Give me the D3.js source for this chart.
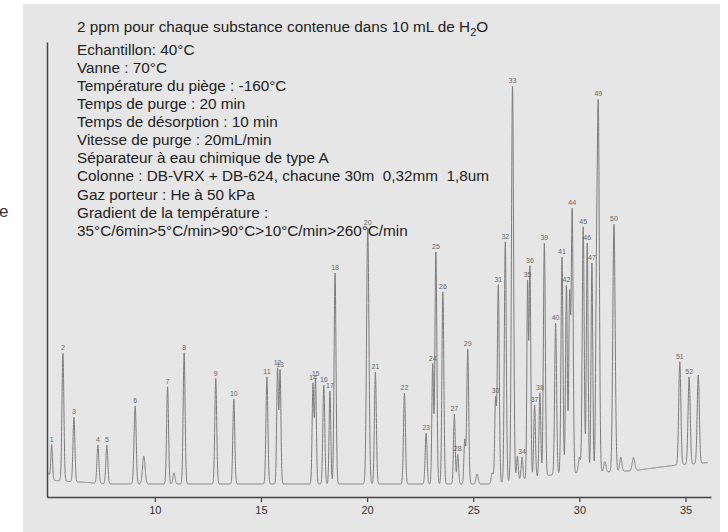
<!DOCTYPE html>
<html>
<head>
<meta charset="utf-8">
<script src="https://cdn.jsdelivr.net/npm/d3@7"></script>
<style>
    body { margin: 0; background: #ffffff; }
    svg { display: block; font-family: "Liberation Sans", Arial, sans-serif; }
</style>
</head>
<body>
<svg id="chart" width="728" height="532"></svg>
<script>
// retention times (min), peak tops, peak labels ("" = no label), widths
var peak_times = [4.95, 5.14, 5.67, 6.19, 7.32, 7.74, 9.02, 9.08, 9.48, 10.6, 10.9, 11.38, 12.87, 13.72,
    15.28, 15.78, 15.90, 17.45, 17.57, 17.96, 18.25, 18.49, 20.03, 20.39, 21.76, 22.78, 23.09, 23.24,
    23.57, 24.11, 24.27, 24.6, 24.74, 25.18, 25.9, 26.05, 26.18, 26.51, 26.85, 27.08, 27.3, 27.56,
    27.67, 27.89, 28.14, 28.35, 28.88, 29.18, 29.39, 29.54, 29.66, 30.0, 30.18, 30.37, 30.59, 30.8,
    30.89, 31.2, 31.63, 31.95, 32.55, 34.73, 35.17, 35.6];
var peak_tops = [3, 9.75, 32.7, 16.7, 9.75, 9.75, 4, 18, 7, 24.3, 2.8, 32.8, 26.4, 21.2,
    26.8, 28.7, 28.3, 25, 26, 24.75, 23.25, 52.8, 64, 28, 22.7, 12.7, 29.9, 58,
    48, 17.4, 7.4, 11, 33.75, 2.5, 2.8, 21, 49.75, 60.6, 99.5, 7, 6.8, 49.75,
    54.2, 19.75, 22.8, 60.2, 40.2, 56.7, 49.75, 46.4, 68.5, 6.7, 64.3, 60.3, 55.3, 39,
    92.8, 5.6, 65, 6.7, 6.6, 30.6, 26.8, 27.25];
var peak_labels = ["", "1", "2", "3", "4", "5", "", "6", "", "7", "", "8", "9", "10",
    "11", "12", "13", "14", "15", "16", "17", "18", "20", "21", "22", "23", "24", "25",
    "26", "27", "28", "", "29", "", "", "30", "31", "32", "33", "", "34", "35",
    "36", "37", "38", "39", "40", "41", "42", "", "44", "", "45", "46", "47", "",
    "49", "", "50", "", "", "51", "52", ""];
var peak_widths = [0.08, 0.04, 0.045, 0.045, 0.045, 0.045, 0.04, 0.045, 0.06, 0.045, 0.05, 0.045, 0.045, 0.045,
    0.045, 0.04, 0.04, 0.04, 0.04, 0.045, 0.04, 0.045, 0.055, 0.045, 0.045, 0.045, 0.04, 0.045,
    0.045, 0.04, 0.04, 0.04, 0.045, 0.05, 0.05, 0.04, 0.045, 0.045, 0.05, 0.04, 0.04, 0.035,
    0.04, 0.04, 0.04, 0.045, 0.045, 0.045, 0.04, 0.04, 0.045, 0.05, 0.045, 0.04, 0.04, 0.04,
    0.05, 0.05, 0.055, 0.05, 0.06, 0.05, 0.05, 0.05];

// baseline drift
var base_times = [4.92, 5.5, 8, 26, 27, 29, 31, 32.5, 34.5, 36.2];
var base_levels = [1, 0.8, 0, 0, 1, 2.5, 3, 3.3, 4.7, 5.4];

var tick_values = [10, 15, 20, 25, 30, 35];

var title_text = "2 ppm pour chaque substance contenue dans 10 mL de H";
var info_lines = [
    "Echantillon: 40°C",
    "Vanne : 70°C",
    "Température du piège : -160°C",
    "Temps de purge : 20 min",
    "Temps de désorption : 10 min",
    "Vitesse de purge : 20mL/min",
    "Séparateur à eau chimique de type A",
    "Colonne : DB-VRX + DB-624, chacune 30m  0,32mm  1,8um",
    "Gaz porteur : He à 50 kPa",
    "Gradient de la température :",
    "35°C/6min>5°C/min>90°C>10°C/min>260°C/min"
];

var svg = d3.select("#chart");

var x = d3.scaleLinear()
    .domain([4.92, 36.2])
    .range([47, 711]);

var y = d3.scaleLinear()
    .domain([-3.25, 110.5])
    .range([497, 42]);

var baseline = d3.scaleLinear()
    .domain(base_times)
    .range(base_levels);

// grey panel + cut off letters at the left
svg.append("rect")
    .attr("x", 23).attr("y", 4)
    .attr("width", 697).attr("height", 528)
    .attr("fill", "#e6e6e6");

svg.append("text")
    .attr("x", -1).attr("y", 217)
    .style("font-size", "17px")
    .style("fill", "#333")
    .text("e");

svg.append("text")
    .attr("x", -5).attr("y", 461)
    .style("font-size", "9px")
    .style("fill", "#999")
    .text("e");

// build the trace from the peak table
var peaks = peak_times.map(function (t, i) {
    return {
        t: t,
        top: peak_tops[i],
        label: peak_labels[i],
        w: peak_widths[i],
        amp: peak_tops[i] - baseline(t)
    };
});

var trace = [];
for (var t = 4.94; t <= 36.06; t += 0.004) {
    var v = baseline(t);
    peaks.forEach(function (p) {
        var z = (t - p.t) / p.w;
        if (Math.abs(z) < 8) v += p.amp * Math.exp(-0.5 * z * z);
    });
    trace.push([t, v]);
}

// highest point of the drawn trace next to a peak, for its number
function trace_top(p) {
    var near = trace.filter(function (d) { return Math.abs(d[0] - p.t) < 0.02; });
    return d3.max(near, function (d) { return d[1]; });
}

var line = d3.line()
    .x(function (d) { return x(d[0]); })
    .y(function (d) { return y(d[1]); });

svg.append("path")
    .datum(trace)
    .attr("d", line)
    .attr("fill", "none")
    .attr("stroke", "#7d7d7d")
    .attr("stroke-width", 1);

// peak numbers
svg.selectAll(".peak_label")
    .data(peaks.filter(function (d) { return d.label !== ""; }))
    .enter()
    .append("text")
    .attr("class", "peak_label")
    .attr("x", function (d) { return x(d.t); })
    .attr("y", function (d) { return y(trace_top(d)) - 3; })
    .attr("text-anchor", "middle")
    .style("font-size", "7px")
    .style("fill", "#666")
    .text(function (d) { return d.label; });

// axes
svg.append("g")
    .attr("transform", "translate(0,497)")
    .call(d3.axisBottom(x).tickValues(tick_values).tickSize(5).tickSizeOuter(0).tickPadding(4))
    .call(function (g) {
        g.select(".domain").attr("stroke", "#444").attr("stroke-width", 1.5);
        g.selectAll(".tick line").attr("stroke", "#444").attr("stroke-width", 1.2);
        g.selectAll(".tick text")
            .style("font-size", "11px")
            .style("fill", "#333")
            .style("font-family", "'Liberation Sans', Arial, sans-serif");
    });

svg.append("g")
    .attr("transform", "translate(47,0)")
    .call(d3.axisLeft(y).tickValues([]).tickSizeOuter(0))
    .call(function (g) {
        g.select(".domain").attr("stroke", "#444").attr("stroke-width", 1.5);
    });

// conditions text
var title = svg.append("text")
    .attr("x", 77).attr("y", 32)
    .style("font-size", "15.3px")
    .style("fill", "#222")
    .text(title_text);
title.append("tspan")
    .attr("dy", 4)
    .style("font-size", "11px")
    .text("2");
title.append("tspan")
    .attr("dy", -4)
    .text("O");

svg.selectAll(".info")
    .data(info_lines)
    .enter()
    .append("text")
    .attr("class", "info")
    .attr("x", 77)
    .attr("y", function (d, i) { return 55 + i * 18.07; })
    .attr("xml:space", "preserve")
    .style("white-space", "pre")
    .style("font-size", "15.3px")
    .style("fill", "#222")
    .text(function (d) { return d; });
</script>
</body>
</html>
